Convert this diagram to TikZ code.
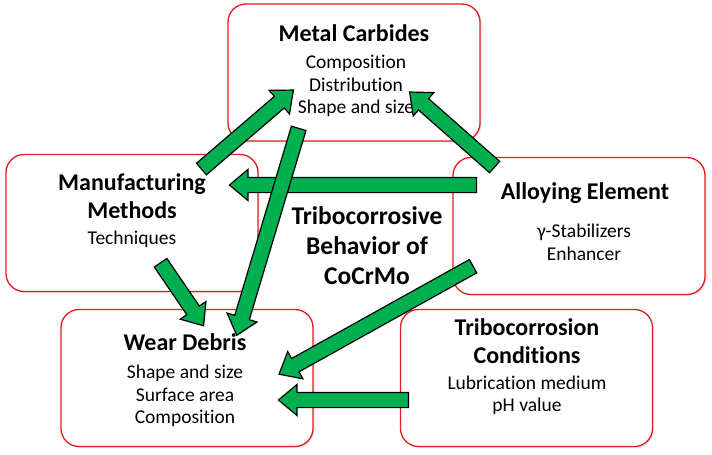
\documentclass[tikz,border=0pt]{standalone}
\usepackage{fontspec}
\setmainfont{Carlito}[Ligatures=NoCommon]
\usetikzlibrary{shapes.arrows, calc, shadows}
\definecolor{boxred}{RGB}{228,28,28}
\definecolor{arrowgreen}{RGB}{0,176,80}

\begin{document}
\begin{tikzpicture}[x=1pt, y=-1pt,
	box/.style={draw=boxred, line width=1.3pt, rounded corners=18pt, fill=white, minimum width=252pt, minimum height=137pt, drop shadow={shadow xshift=1.5pt, shadow yshift=-1.5pt, opacity=0.2}},
	head/.style={font=\fontsize{24}{28}\selectfont\bfseries, align=center, inner sep=0pt},
	body/.style={font=\fontsize{19.5}{22.5}\selectfont, align=center, inner sep=0pt},
	greenarrow/.style={single arrow, draw=black, line width=1.2pt, fill=arrowgreen, inner xsep=0pt, inner ysep=7pt, single arrow head extend=8pt, single arrow tip angle=80}]
	\useasboundingbox (0,0) rectangle (712,455);
	% Boites
	\node[box] (mc) at (354,72.5) {};
	\node[box] (mm) at (132,223) {};
	\node[box] (ae) at (579,226) {};
	\node[box] (wd) at (187,378) {};
	\node[box] (tc) at (526.5,378) {};
	% Textes
	\node[head] (mcT) at (354,33) {Metal Carbides};
	\node[body] (mcB) at (356,86) {Composition\\Distribution\\Shape and size};
	\node[head] (mmT) at (132,196) {Manufacturing\\Methods};
	\node[body] (mmB) at (132,239) {Techniques};
	\node[head] (aeT) at (585,193) {Alloying Element};
	\node[body] (aeB) at (584,242.5) {γ-Stabilizers\\Enhancer};
	\node[head] (wdT) at (185,342) {Wear Debris};
	\node[body] (wdB) at (185,396) {Shape and size\\Surface area\\Composition};
	\node[head] (tcT) at (527,341.5) {Tribocorrosion\\Conditions};
	\node[body] (tcB) at (527,395.5) {Lubrication medium\\pH value};
	\node[font=\fontsize{25.5}{30}\selectfont\bfseries, align=center, inner sep=0pt] (tb) at (367,246) {Tribocorrosive\\Behavior of\\CoCrMo};
	% Fleches
	\coordinate (aeD) at (481,185); \coordinate (mmD) at (234,185);
	\coordinate (mmA) at (198,172); \coordinate (mcA) at (290,93);
	\coordinate (aeC) at (498,170); \coordinate (mcC) at (413,95);
	\coordinate (mcE) at (300,124); \coordinate (wdE) at (238,331);
	\coordinate (mmF) at (158,259); \coordinate (wdF) at (201,322);
	\coordinate (aeG) at (477,264); \coordinate (wdG) at (283,372);
	\coordinate (tcH) at (413,400); \coordinate (wdH) at (283,400);
	\foreach \s/\e [count=\i] in {aeD/mmD, mmA/mcA, aeC/mcC, mcE/wdE, mmF/wdF, aeG/wdG, tcH/wdH}
		\path let \p1=($(\e)-(\s)$), \n1={veclen(\x1,\y1)}, \n2={atan2(\y1,\x1)} in
			node[greenarrow, minimum height=\n1, rotate=\n2] (arrow\i) at ($(\s)!0.5!(\e)$) {};
\end{tikzpicture}
\end{document}
